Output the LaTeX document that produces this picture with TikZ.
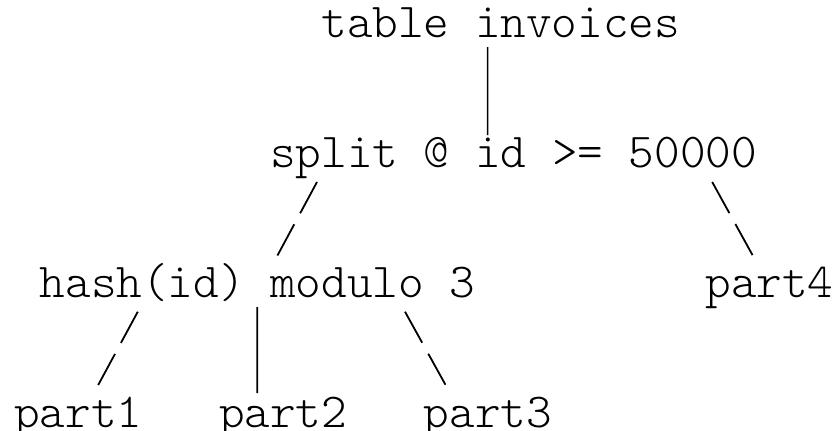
\documentclass[tikz,border=0pt]{standalone}
\usepackage{fontspec}
\setmonofont{lmmonolt10-regular.otf}

\tikzstyle{codenode} = [anchor = base west, inner sep = 0pt, font = \ttfamily\fontsize{48.8}{48.8}\selectfont]
\tikzstyle{pipeline} = [line width = 1.7pt]
\tikzstyle{slashline} = [line width = 1.8pt, dash pattern = on 35.5pt off 12.5pt]

\begin{document}
\begin{tikzpicture}[x = 1pt, y = 1pt]
			\useasboundingbox (0,0) rectangle (836,-431);
			\node[codenode] (tbl) at (321.2,-37) {table invoices};
			\node[codenode] (split) at (270,-167) {split @ id >= 50000};
			\node[codenode] (hash) at (39.6,-297) {hash(id) modulo 3};
			\node[codenode] (part4) at (705.2,-297) {part4};
			\node[codenode] (part1) at (14,-427) {part1};
			\node[codenode] (part2) at (218.8,-427) {part2};
			\node[codenode] (part3) at (423.6,-427) {part3};
			\path
			([xshift = 166.4pt, yshift = -10pt]tbl.base west) edge[pipeline] ([xshift = 217.6pt, yshift = 32pt]split.base west)
			([xshift = 47pt, yshift = -15pt]split.base west) edge[slashline] ([xshift = 237.8pt, yshift = 41.4pt]hash.base west)
			([xshift = 442.2pt, yshift = -15pt]split.base west) edge[slashline] ([xshift = 47.6pt, yshift = 41.4pt]part4.base west)
			([xshift = 98.2pt, yshift = -14.7pt]hash.base west) edge[slashline] ([xshift = 84.2pt, yshift = 42pt]part1.base west)
			([xshift = 217.6pt, yshift = -10pt]hash.base west) edge[pipeline] ([xshift = 38.4pt, yshift = 34pt]part2.base west)
			([xshift = 365.4pt, yshift = -14.7pt]hash.base west) edge[slashline] ([xshift = 22pt, yshift = 42pt]part3.base west);
		\end{tikzpicture}
\end{document}
